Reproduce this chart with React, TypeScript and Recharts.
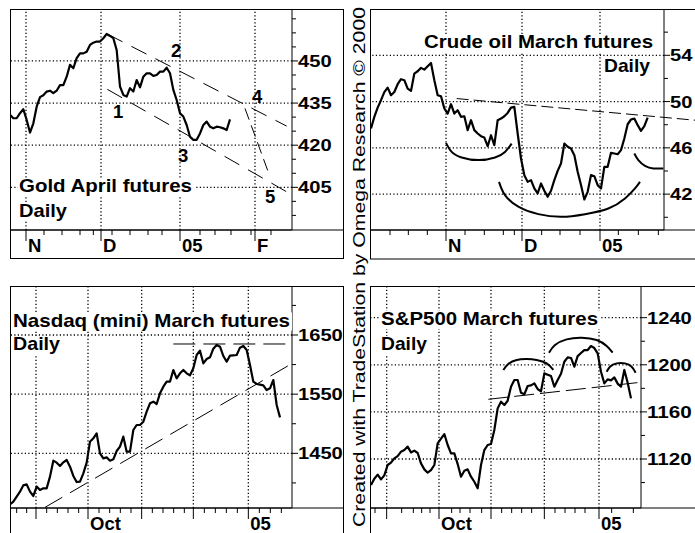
import React from 'react';
import { LineChart, Line, XAxis, YAxis, ReferenceLine } from 'recharts';

// daily closes, read off the chart (one value per bar)
const goldClose = [
  430.8, 429.6, 429.6, 431.4, 432.8, 429.0, 424.5, 427.8, 433.7, 437.1,
  437.8, 439.1, 439.4, 438.5, 439.4, 441.4, 441.4, 444.4, 448.6, 447.4,
  451.0, 452.7, 452.7, 453.3, 455.7, 456.5, 456.9, 456.9, 458.1, 459.6,
  458.9, 458.1, 453.9, 440.9, 437.9, 437.3, 440.3, 439.1, 443.2, 440.6,
  444.4, 445.6, 445.6, 444.7, 445.0, 446.2, 446.2, 447.6, 445.6, 439.7,
  436.1, 431.4, 430.2, 427.2, 423.0, 421.9, 421.9, 424.2, 427.2, 428.4,
  426.6, 426.0, 426.6, 426.4, 426.0, 425.4, 429.2,
];

const crudeClose = [
  47.67, 48.68, 49.48, 50.12, 50.81, 51.21, 50.55, 50.83, 51.5, 51.93,
  51.84, 51.12, 50.92, 52.42, 52.62, 52.91, 52.76, 53.05, 53.34, 51.84,
  50.55, 50.46, 49.4, 48.96, 49.77, 48.96, 49.25, 48.68, 48.73, 47.53,
  48.39, 47.53, 47.24, 47.01, 46.89, 46.14, 47.09, 46.23, 48.39, 48.53,
  48.73, 49.02, 49.48, 49.54, 47.24, 45.08, 43.64, 43.06, 43.21, 42.49,
  42.06, 42.92, 42.29, 41.77, 42.29, 43.21, 44.01, 44.65, 46.37, 46.09,
  45.94, 45.37, 43.93, 42.78, 41.54, 42.2, 43.64, 43.55, 42.78, 42.49,
  44.36, 44.36, 45.57, 45.51, 45.45, 45.8, 46.81, 48.04, 48.45, 48.53,
  47.96, 47.47, 47.87, 48.62,
];

const nasdaqClose = [
  1363.8, 1368.3, 1376.8, 1385.2, 1395.9, 1397.6, 1385.2, 1377.9, 1393.7, 1388.0,
  1390.8, 1390.8, 1410.6, 1437.6, 1434.2, 1428.6, 1434.8, 1438.7, 1427.5, 1411.7,
  1401.5, 1402.1, 1416.2, 1434.2, 1469.7, 1475.4, 1483.8, 1450.0, 1441.5, 1443.2,
  1437.6, 1439.9, 1453.9, 1461.3, 1478.2, 1452.8, 1452.8, 1489.4, 1497.9, 1497.9,
  1503.5, 1520.4, 1534.5, 1537.3, 1533.4, 1551.4, 1562.7, 1571.1, 1571.1, 1590.8,
  1576.8, 1585.2, 1590.8, 1585.2, 1581.8, 1593.7, 1616.2, 1623.5, 1602.1, 1609.4,
  1612.3, 1626.9, 1633.1, 1630.3, 1614.5, 1604.9, 1615.1, 1615.6, 1616.2, 1628.6,
  1631.4, 1624.6, 1599.3, 1571.1, 1567.2, 1566.1, 1564.9, 1557.0, 1559.9, 1573.9,
  1531.7, 1510.8,
];

const spClose = [
  1097.9, 1103.3, 1106.7, 1102.7, 1106.1, 1114.9, 1116.9, 1120.6, 1122.5, 1126.2,
  1127.6, 1130.5, 1125.6, 1127.1, 1125.1, 1116.3, 1111.2, 1108.4, 1110.6, 1114.9,
  1133.3, 1137.3, 1141.2, 1131.9, 1124.8, 1124.8, 1115.7, 1105.0, 1110.1, 1111.2,
  1105.0, 1100.7, 1095.1, 1114.9, 1127.6, 1131.9, 1132.7, 1144.6, 1163.0, 1168.7,
  1165.8, 1169.5, 1181.4, 1187.1, 1187.1, 1176.3, 1174.9, 1182.0, 1182.5, 1184.2,
  1179.4, 1177.4, 1192.7, 1191.6, 1190.5, 1181.4, 1187.1, 1192.4, 1202.6, 1206.3,
  1205.8, 1198.4, 1207.4, 1210.0, 1212.5, 1212.5, 1215.9, 1214.2, 1209.7, 1194.1,
  1184.2, 1187.6, 1186.8, 1189.3, 1184.0, 1181.4, 1195.6, 1184.8, 1171.5,
];

// axis ticks (bar index / price)
const goldXMajor = [4.8, 27.3, 51.0, 73.5];
const goldXLabels = ['N', 'D', '05', 'F'];
const goldXMinor = [10.2, 15.6, 21.0, 25.0, 30.6, 36.0, 41.4, 45.6, 57.0, 61.5, 66.3, 72.3, 78.3];
const goldYMajor = [450, 435, 420, 405];
const goldYMinor = [465, 460, 455, 445, 440, 430, 425, 415, 410, 400, 395];

const crudeXMajor = [22.5, 45.3, 68.7];
const crudeXLabels = ['N', 'D', '05'];
const crudeXMinor = [5.7, 11.2, 16.9, 28.2, 34.0, 39.7, 43.0, 51.2, 56.7, 62.7, 74.2, 80.2, 86.2];
const crudeYMajor = [54, 50, 46, 42];
const crudeYMinor = [56, 52, 48, 44, 40];

const nasdaqXMajor = [7.8, 23.4, 39.5, 55.0, 71.5];
const nasdaqXLabels = ['', 'Oct', '', '', '05'];
const nasdaqXMinor = [2.0, 5.0, 11.0, 14.2, 17.4, 20.6, 26.7, 29.9, 33.1, 36.3, 42.7, 45.9, 49.1, 52.3, 58.3, 61.6, 64.9, 68.2, 74.8, 78.1, 81.4];
const nasdaqYMajor = [1650, 1550, 1450];
const nasdaqYMinor = [1700, 1600, 1500, 1400];

const spXMajor = [4.7, 20.4, 36.0, 52.0, 68.4];
const spXLabels = ['', 'Oct', '', '', '05'];
const spXMinor = [1.2, 9.2, 12.7, 15.2, 17.7, 24.2, 26.7, 29.7, 33.2, 39.2, 42.2, 45.2, 48.2, 55.2, 58.2, 61.2, 64.2, 72.2, 78.7];
const spYMajor = [1240, 1200, 1160, 1120];
const spYMinor = [1220, 1180, 1140, 1100];

// hand-drawn trend lines: [x1, y1, x2, y2]
const goldTrends = [
  [29.2, 459.6, 83.0, 426.8],
  [29.2, 439.9, 83.0, 403.4],
  [70.5, 433.1, 77.8, 409.4],
];
const crudeTrends = [[25.7, 50.26, 97.2, 48.39]];
const nasdaqTrends = [
  [49.0, 1634.8, 84.6, 1634.8],
  [10.5, 1358.7, 84.6, 1601.8],
];
const spTrends = [[35.2, 1170.7, 80.7, 1185.1]];

// saucer / head-and-shoulders arcs: [x, y] points
const crudeArcs = [
  [[22.5, 46.43], [24.2, 45.65], [27.2, 45.17], [32.2, 44.94], [37.2, 45.17], [40.2, 45.65], [42.2, 46.37]],
  [[38.4, 43.06], [40.2, 41.91], [44.2, 40.91], [50.2, 40.27], [57.2, 40.04], [64.2, 40.27], [71.2, 40.76], [76.2, 41.63], [79.2, 42.49], [80.7, 43.06]],
  [[79.0, 45.51], [80.2, 44.94], [82.2, 44.45], [84.7, 44.22], [87.7, 44.22]],
];
const spArcs = [
  [[39.7, 1195.6], [41.2, 1200.7], [43.7, 1204.1], [46.7, 1204.9], [49.7, 1204.1], [52.7, 1201.2], [54.7, 1195.6]],
  [[53.4, 1210.3], [55.2, 1216.8], [58.7, 1221.6], [63.2, 1223.0], [67.7, 1221.0], [70.7, 1215.9], [72.5, 1210.3]],
  [[70.7, 1194.1], [71.7, 1198.4], [73.7, 1201.2], [76.2, 1201.2], [78.2, 1198.4], [79.4, 1193.3]],
];

const FONT = '"Liberation Sans", Arial, Helvetica, sans-serif';

interface PanelProps {
  left: number;
  top: number;
  width: number;
  height: number;
  yAxisWidth: number;
  xAxisHeight: number;
  xDomain: [number, number];
  yDomain: [number, number];
  closes: number[];
  xMajor: number[];
  xLabels: string[];
  xMinor: number[];
  yMajor: number[];
  yMinor: number[];
  trends: number[][];
  dash: string[];
  arcs?: number[][][];
}

const Panel: React.FC<PanelProps> = (p) => {
  const data = p.closes.map((v, i) => ({ x: i, y: v }));
  const xTicks = [...p.xMajor, ...p.xMinor].sort((a, b) => a - b);
  const yTicks = [...p.yMajor, ...p.yMinor].sort((a, b) => a - b);

  const xTick = (t: any) => {
    const i = p.xMajor.indexOf(t.payload.value);
    if (i < 0) return <line x1={t.x} x2={t.x} y1={t.y} y2={t.y + 5} stroke="#000" />;
    return (
      <g>
        <line x1={t.x} x2={t.x} y1={t.y} y2={t.y + 11} stroke="#000" />
        {p.xLabels[i] ? (
          <text x={t.x + 2} y={t.y + 22} fontFamily={FONT} fontWeight="bold" fontSize={18.5} fill="#000">
            {p.xLabels[i]}
          </text>
        ) : null}
      </g>
    );
  };

  const yTick = (t: any) => {
    const v = t.payload.value;
    const major = p.yMajor.includes(v);
    const s = String(v);
    return (
      <g>
        <line x1={t.x} x2={t.x + (major ? 6 : 4)} y1={t.y} y2={t.y} stroke="#000" />
        {major ? (
          <text
            x={t.x + 6}
            y={t.y + 6}
            fontFamily={FONT}
            fontWeight="bold"
            fontSize={17}
            textLength={s.length * 11.2}
            lengthAdjust="spacingAndGlyphs"
            fill="#000"
          >
            {s}
          </text>
        ) : null}
      </g>
    );
  };

  return (
    <div style={{ position: 'absolute', left: p.left, top: p.top, width: p.width, height: p.height }}>
      <LineChart width={p.width} height={p.height} margin={{ top: 0, right: 0, bottom: 0, left: 0 }}>
        <XAxis
          type="number"
          dataKey="x"
          domain={p.xDomain}
          allowDataOverflow
          ticks={xTicks}
          interval={0}
          height={p.xAxisHeight}
          tickSize={0}
          tickMargin={0}
          tickLine={false}
          axisLine={{ stroke: '#000' }}
          tick={xTick}
        />
        <YAxis
          type="number"
          orientation="right"
          domain={p.yDomain}
          allowDataOverflow
          ticks={yTicks}
          interval={0}
          width={p.yAxisWidth}
          tickSize={0}
          tickMargin={0}
          tickLine={false}
          axisLine={{ stroke: '#000' }}
          tick={yTick}
        />
        {p.xMajor.map((v) => (
          <ReferenceLine
            key={'gx' + v}
            x={v}
            stroke="#000"
            strokeWidth={1.3}
            strokeDasharray="1.2 2.3"
            ifOverflow="visible"
          />
        ))}
        {p.yMajor.map((v) => (
          <ReferenceLine
            key={'gy' + v}
            y={v}
            stroke="#000"
            strokeWidth={1.3}
            strokeDasharray="1.2 2.3"
            ifOverflow="visible"
          />
        ))}
        {p.trends.map((t, i) => (
          <ReferenceLine
            key={'t' + i}
            segment={[{ x: t[0], y: t[1] }, { x: t[2], y: t[3] }]}
            stroke="#000"
            strokeWidth={1}
            strokeDasharray={p.dash[i]}
            ifOverflow="visible"
          />
        ))}
        {(p.arcs || []).map((a, i) => (
          <Line
            key={'a' + i}
            data={a.map(([x, y]) => ({ x, y }))}
            dataKey="y"
            type="natural"
            stroke="#000"
            strokeWidth={2}
            dot={false}
            activeDot={false}
            isAnimationActive={false}
          />
        ))}
        <Line
          data={data}
          dataKey="y"
          type="linear"
          stroke="#000"
          strokeWidth={2.2}
          strokeLinejoin="round"
          dot={false}
          activeDot={false}
          isAnimationActive={false}
        />
      </LineChart>
    </div>
  );
};

const Title: React.FC<{ x: number; y: number; w: number; text: string }> = ({ x, y, w, text }) => (
  <g>
    <rect x={x - 1} y={y - 14} width={w + 3} height={18} fill="#fff" />
    <text
      x={x}
      y={y}
      fontFamily={FONT}
      fontWeight="bold"
      fontSize={18.5}
      textLength={w}
      lengthAdjust="spacingAndGlyphs"
      fill="#000"
    >
      {text}
    </text>
  </g>
);

export default function App() {
  return (
    <div
      style={{
        position: 'absolute',
        left: 0,
        top: 0,
        width: 695,
        height: 533,
        overflow: 'hidden',
        background: '#fff',
      }}
    >
      <Panel
        left={10}
        top={9}
        width={333}
        height={249}
        yAxisWidth={51}
        xAxisHeight={28}
        xDomain={[0, 84.6]}
        yDomain={[389.8, 468.5]}
        closes={goldClose}
        xMajor={goldXMajor}
        xLabels={goldXLabels}
        xMinor={goldXMinor}
        yMajor={goldYMajor}
        yMinor={goldYMinor}
        trends={goldTrends}
        dash={['17 10', '17 10', '12 6']}
      />
      <Panel
        left={370}
        top={9}
        width={340}
        height={250}
        yAxisWidth={46}
        xAxisHeight={29}
        xDomain={[-0.3, 87.9]}
        yDomain={[38.9, 58.0]}
        closes={crudeClose}
        xMajor={crudeXMajor}
        xLabels={crudeXLabels}
        xMinor={crudeXMinor}
        yMajor={crudeYMajor}
        yMinor={crudeYMinor}
        trends={crudeTrends}
        dash={['12 5']}
        arcs={crudeArcs}
      />
      <Panel
        left={10}
        top={286}
        width={333}
        height={250}
        yAxisWidth={51}
        xAxisHeight={28}
        xDomain={[0, 84.6]}
        yDomain={[1357.6, 1732.8]}
        closes={nasdaqClose}
        xMajor={nasdaqXMajor}
        xLabels={nasdaqXLabels}
        xMinor={nasdaqXMinor}
        yMajor={nasdaqYMajor}
        yMinor={nasdaqYMinor}
        trends={nasdaqTrends}
        dash={['22 8', '20 9']}
      />
      <Panel
        left={370}
        top={286}
        width={340}
        height={250}
        yAxisWidth={69}
        xAxisHeight={28}
        xDomain={[-0.3, 81.0]}
        yDomain={[1078.4, 1266.9]}
        closes={spClose}
        xMajor={spXMajor}
        xLabels={spXLabels}
        xMinor={spXMinor}
        yMajor={spYMajor}
        yMinor={spYMinor}
        trends={spTrends}
        dash={['20 6']}
        arcs={spArcs}
      />
      <svg
        width={695}
        height={533}
        style={{ position: 'absolute', left: 0, top: 0, pointerEvents: 'none' }}
      >
        {/* panel frames and full-width axis separators */}
        <g fill="none" stroke="#000" strokeWidth={1}>
          <rect x={10.5} y={9.5} width={333} height={249} />
          <rect x={370.5} y={9.5} width={340} height={249.5} />
          <rect x={10.5} y={286.5} width={333} height={300} />
          <rect x={370.5} y={286.5} width={340} height={300} />
          <line x1={10} x2={343} y1={230} y2={230} />
          <line x1={370} x2={695} y1={230} y2={230} />
          <line x1={10} x2={343} y1={508} y2={508} />
          <line x1={370} x2={695} y1={508} y2={508} />
        </g>

        <Title x={19} y={192} w={173} text="Gold April futures" />
        <Title x={19} y={216.5} w={48} text="Daily" />
        <Title x={424} y={48.3} w={229} text="Crude oil March futures" />
        <Title x={604} y={71.5} w={46} text="Daily" />
        <Title x={13} y={326.5} w={277} text="Nasdaq (mini) March futures" />
        <Title x={13} y={350} w={47} text="Daily" />
        <Title x={381} y={325} w={217} text="S&P500 March futures" />
        <Title x={381} y={350} w={46} text="Daily" />

        {/* Elliott wave counts on gold */}
        <g fontFamily={FONT} fontWeight="bold" fontSize={18.5} fill="#000">
          <text x={113} y={118.3}>1</text>
          <text x={171} y={56.7}>2</text>
          <text x={178} y={161.7}>3</text>
          <text x={252} y={102.7}>4</text>
          <text x={265} y={203.3}>5</text>
        </g>

        <text
          transform="translate(364.5, 527) rotate(-90)"
          x={0}
          y={0}
          fontFamily={FONT}
          fontSize={17}
          textLength={520}
          lengthAdjust="spacingAndGlyphs"
          fill="#000"
        >
          Created with TradeStation by Omega Research © 2000
        </text>
      </svg>
    </div>
  );
}
